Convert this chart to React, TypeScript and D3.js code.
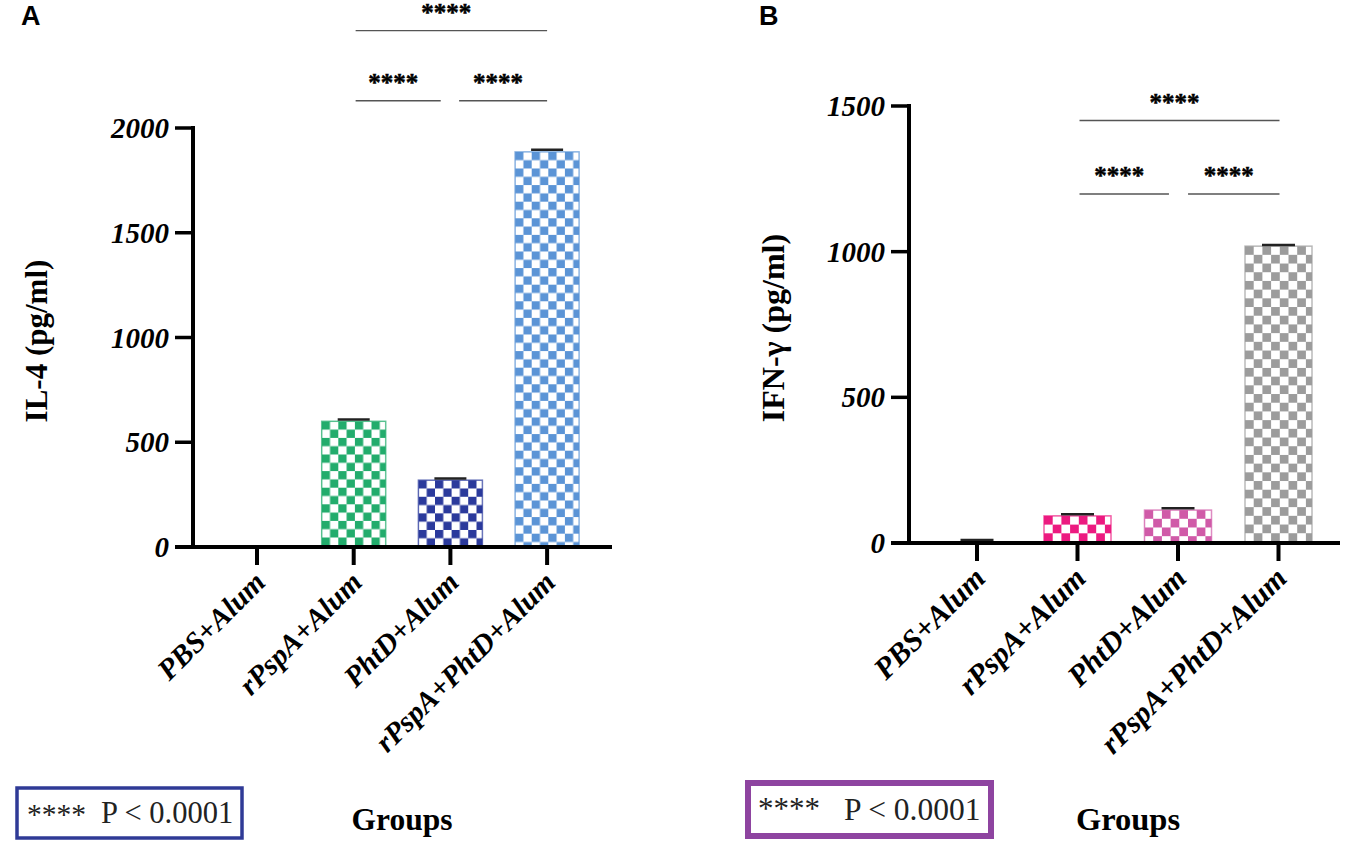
import * as d3 from "d3";

const groups = ["PBS+Alum", "rPspA+Alum", "PhtD+Alum", "rPspA+PhtD+Alum"];

const il4Values = [0, 600, 319, 1886];
const il4Errors = [0, 8, 8, 10];
const il4Colors = ["#1a1a1a", "#22ac6c", "#2b3a9c", "#5b94d6"];
const il4Ticks = [0, 500, 1000, 1500, 2000];

const ifnValues = [6, 93, 113, 1019];
const ifnErrors = [4, 6, 6, 4];
const ifnColors = ["#1a1a1a", "#ec1a80", "#d05aa8", "#9c9c9c"];
const ifnTicks = [0, 500, 1000, 1500];

// level is on the y scale, from/to are group positions
const il4Brackets = [
  { from: 1.02, to: 1.9, level: 2130 },
  { from: 2.09, to: 3, level: 2130 },
  { from: 1.02, to: 3, level: 2465 },
];
const ifnBrackets = [
  { from: 1.02, to: 1.91, level: 1198 },
  { from: 2.1, to: 3.01, level: 1198 },
  { from: 1.02, to: 3.01, level: 1450 },
];

const serif = "'Liberation Serif', serif";

interface PanelProps {
  id: string;
  letter: string;
  letterX: number;
  yLabel: string;
  yLabelX: number;
  yLabelY: number;
  yLabelSize: number;
  values: number[];
  errors: number[];
  colors: string[];
  ticks: number[];
  yMax: number;
  brackets: { from: number; to: number; level: number }[];
  axisX: number;
  axisEnd: number;
  top: number;
  bottom: number;
  firstTick: number;
  step: number;
  barWidth: number;
  cell: number;
  capWidth: number;
  groupsX: number;
  groupsSize: number;
  groupLabelSize: number;
  box: { x: number; y: number; w: number; h: number; sw: number; color: string; starsX: number; textX: number; starSize: number; textSize: number };
}

function Panel(p: PanelProps) {
  const y = d3.scaleLinear().domain([0, p.yMax]).range([p.bottom, p.top]);
  const x = d3
    .scaleLinear()
    .domain([0, 3])
    .range([p.firstTick, p.firstTick + p.step * 3]);

  return (
    <g>
      <defs>
        {p.colors.map((c, i) => (
          <pattern
            key={i}
            id={`${p.id}-check-${i}`}
            width={p.cell * 2}
            height={p.cell * 2}
            patternUnits="userSpaceOnUse"
            x={x(i) - p.barWidth / 2}
            y={y(p.values[i])}
          >
            <rect width={p.cell * 2} height={p.cell * 2} fill="#fff" />
            <rect width={p.cell} height={p.cell} fill={c} />
            <rect x={p.cell} y={p.cell} width={p.cell} height={p.cell} fill={c} />
          </pattern>
        ))}
      </defs>

      <text x={p.letterX} y={25} fontFamily="'Liberation Sans', sans-serif" fontWeight="bold" fontSize={27}>
        {p.letter}
      </text>

      {/* bars */}
      {p.values.map((v, i) =>
        i === 0 ? null : (
          <rect
            key={i}
            x={x(i) - p.barWidth / 2}
            y={y(v)}
            width={p.barWidth}
            height={y(0) - y(v)}
            fill={`url(#${p.id}-check-${i})`}
            stroke={p.colors[i]}
            strokeOpacity={0.7}
            strokeWidth={1.5}
          />
        )
      )}

      {/* error caps */}
      {p.values.map((v, i) => (
        <line
          key={i}
          x1={x(i) - p.capWidth / 2}
          x2={x(i) + p.capWidth / 2}
          y1={y(v + p.errors[i])}
          y2={y(v + p.errors[i])}
          stroke="#222"
          strokeWidth={2.5}
        />
      ))}

      {/* y axis */}
      <line x1={p.axisX} x2={p.axisX} y1={p.top - 2} y2={p.bottom + 2} stroke="#000" strokeWidth={4} />
      {p.ticks.map((t) => (
        <g key={t}>
          <line x1={p.axisX - 18} x2={p.axisX} y1={y(t)} y2={y(t)} stroke="#000" strokeWidth={3.5} />
          <text
            x={p.axisX - 24}
            y={y(t) + 10}
            textAnchor="end"
            fontFamily={serif}
            fontStyle="italic"
            fontWeight="bold"
            fontSize={29}
          >
            {t}
          </text>
        </g>
      ))}

      {/* x axis */}
      <line x1={p.axisX - 18} x2={p.axisEnd} y1={y(0)} y2={y(0)} stroke="#000" strokeWidth={4} />
      {groups.map((g, i) => (
        <g key={g}>
          <line x1={x(i)} x2={x(i)} y1={y(0)} y2={y(0) + 18} stroke="#000" strokeWidth={4} />
          <text
            transform={`translate(${x(i) + 10},${y(0) + 37}) rotate(-45)`}
            textAnchor="end"
            fontFamily={serif}
            fontStyle="italic"
            fontWeight="bold"
            fontSize={p.groupLabelSize}
          >
            {g}
          </text>
        </g>
      ))}

      {/* significance brackets */}
      {p.brackets.map((b, i) => (
        <g key={i}>
          <line x1={x(b.from)} x2={x(b.to)} y1={y(b.level)} y2={y(b.level)} stroke="#555" strokeWidth={1.4} />
          <text
            x={(x(b.from) + x(b.to)) / 2 - 5}
            y={y(b.level) - 10}
            textAnchor="middle"
            fontFamily={serif}
            fontWeight="bold"
            fontSize={25}
            stroke="#000"
            strokeWidth={0.5}
          >
            ****
          </text>
        </g>
      ))}

      <text
        transform={`translate(${p.yLabelX},${p.yLabelY}) rotate(-90)`}
        textAnchor="middle"
        fontFamily={serif}
        fontWeight="bold"
        fontSize={p.yLabelSize}
      >
        {p.yLabel}
      </text>

      <text x={p.groupsX} y={830} textAnchor="middle" fontFamily={serif} fontWeight="bold" fontSize={p.groupsSize}>
        Groups
      </text>

      {/* p value key */}
      <rect
        x={p.box.x}
        y={p.box.y}
        width={p.box.w}
        height={p.box.h}
        fill="#fff"
        stroke={p.box.color}
        strokeWidth={p.box.sw}
      />
      <text x={p.box.starsX} y={p.box.y + 36} fontFamily={serif} fontSize={p.box.starSize} fill="#222">
        ****
      </text>
      <text x={p.box.textX} y={p.box.y + p.box.h / 2 + 10} fontFamily={serif} fontSize={p.box.textSize} fill="#222">
        {"P < 0.0001"}
      </text>
    </g>
  );
}

export default function App() {
  return (
    <svg width={1352} height={851} style={{ position: "absolute", left: 0, top: 0, background: "#fff" }}>
      <Panel
        id="il4"
        letter="A"
        letterX={21}
        yLabel="IL-4 (pg/ml)"
        yLabelX={47}
        yLabelY={341}
        yLabelSize={31}
        values={il4Values}
        errors={il4Errors}
        colors={il4Colors}
        ticks={il4Ticks}
        yMax={2000}
        brackets={il4Brackets}
        axisX={193}
        axisEnd={612}
        top={128}
        bottom={547}
        firstTick={257}
        step={96.7}
        barWidth={64}
        cell={8.3}
        capWidth={32}
        groupsX={402}
        groupsSize={31.5}
        groupLabelSize={29.5}
        box={{ x: 17, y: 788, w: 225, h: 50, sw: 3.5, color: "#2f3a96", starsX: 27, textX: 101, starSize: 29.5, textSize: 30.5 }}
      />
      <Panel
        id="ifn"
        letter="B"
        letterX={759}
        yLabel="IFN-γ (pg/ml)"
        yLabelX={784}
        yLabelY={328}
        yLabelSize={32}
        values={ifnValues}
        errors={ifnErrors}
        colors={ifnColors}
        ticks={ifnTicks}
        yMax={1500}
        brackets={ifnBrackets}
        axisX={909}
        axisEnd={1340}
        top={106}
        bottom={543}
        firstTick={977}
        step={100.5}
        barWidth={67}
        cell={8.7}
        capWidth={33}
        groupsX={1128}
        groupsSize={32.5}
        groupLabelSize={30.5}
        box={{ x: 748, y: 783, w: 243, h: 53, sw: 6, color: "#8e44a0", starsX: 758, textX: 844, starSize: 31, textSize: 31.5 }}
      />
    </svg>
  );
}
